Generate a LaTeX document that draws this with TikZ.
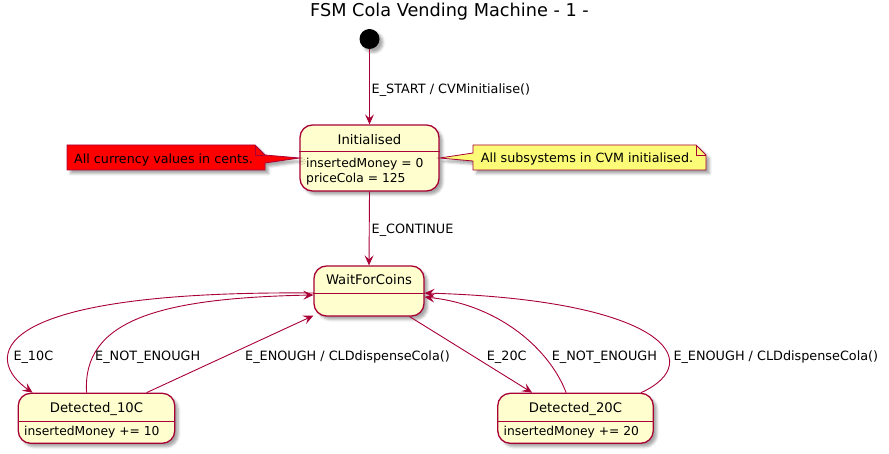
\documentclass[tikz,border=0pt]{standalone}
\usepackage{fontspec}
\setmainfont{DejaVu Sans}
\usetikzlibrary{arrows.meta,shadows.blur,calc}
\definecolor{pborder}{HTML}{A80036}
\definecolor{pfill}{HTML}{FEFECE}
\definecolor{pnote}{HTML}{FBFB77}
\tikzset{
  pshadow/.style={blur shadow={shadow xshift=3.5pt,shadow yshift=-3.5pt,shadow blur radius=2.5pt,shadow opacity=35}},
  statebox/.style={draw=pborder,fill=pfill,line width=1.3pt,rounded corners=12.5pt,inner sep=0pt,pshadow},
  sname/.style={anchor=base,inner sep=0pt,font=\fontsize{13.2}{15}\selectfont},
  sbody/.style={anchor=base west,inner sep=0pt,font=\fontsize{12.3}{14}\selectfont},
  elabel/.style={anchor=base west,inner sep=0pt,font=\fontsize{12.8}{15}\selectfont},
  notetext/.style={anchor=base west,inner sep=0pt,font=\fontsize{12.7}{15}\selectfont},
  notebox/.style={draw=pborder,line width=0.8pt,line join=miter,pshadow},
  sep/.style={draw=pborder,line width=1pt},
  trans/.style={draw=pborder,line width=0.9pt,-{Stealth[length=10pt,width=9pt,inset=4pt]}}
}
\begin{document}
\begin{tikzpicture}[x=1pt,y=-1pt]
\useasboundingbox (0,0) rectangle (889,454);
% title
\node[anchor=base,inner sep=0pt,font=\fontsize{17.7}{20}\selectfont] (title) at (449.5,17) {FSM Cola Vending Machine - 1 -};
% start
\node[circle,fill=black,minimum size=20pt,inner sep=0pt,pshadow] (start) at (369.5,39) {};
% states
\node[statebox,minimum width=139pt,minimum height=66pt] (init) at (369.5,158) {};
\draw[sep] ($(init.north west)+(0,27)$) -- ($(init.north east)+(0,27)$);
\node[sname] (initn) at (369.5,145) {Initialised};
\node[sbody] (initb1) at (306,167.7) {insertedMoney = 0};
\node[sbody] (initb2) at (306,182.3) {priceCola = 125};

\node[statebox,minimum width=110pt,minimum height=50pt] (wait) at (369,291) {};
\draw[sep] ($(wait.north west)+(0,28)$) -- ($(wait.north east)+(0,28)$);
\node[sname] (waitn) at (369,285) {WaitForCoins};

\node[statebox,minimum width=156.5pt,minimum height=50pt] (d10) at (96.5,418.3) {};
\draw[sep] ($(d10.north west)+(0,28.4)$) -- ($(d10.north east)+(0,28.4)$);
\node[sname] (d10n) at (96.5,412.3) {Detected\_10C};
\node[sbody] (d10b) at (24,435) {insertedMoney += 10};

\node[statebox,minimum width=155.5pt,minimum height=50pt] (d20) at (575.5,418.3) {};
\draw[sep] ($(d20.north west)+(0,28.4)$) -- ($(d20.north east)+(0,28.4)$);
\node[sname] (d20n) at (575.5,412.3) {Detected\_20C};
\node[sbody] (d20b) at (503.5,435) {insertedMoney += 20};

% notes
\draw[notebox,fill=red] (67,145) -- (255,145) -- (265,155) -- (init.west) -- (265,163) -- (265,170) -- (67,170) -- cycle;
\draw[draw=pborder,line width=0.8pt] (255,145) -- (255,155) -- (265,155);
\node[notetext] (rednote) at (74,163.3) {All currency values in cents.};

\draw[notebox,fill=pnote] (473,145) -- (696,145) -- (706,155) -- (706,170) -- (473,170) -- (473,161) -- (init.east) -- (473,153) -- cycle;
\draw[draw=pborder,line width=0.8pt] (696,145) -- (696,155) -- (706,155);
\node[notetext] (yelnote) at (480.7,162.7) {All subsystems in CVM initialised.};

% transitions
\draw[trans] (start) -- (init.north);
\node[elabel] (l1) at (371.5,93.3) {E\_START / CVMinitialise()};
\draw[trans] (init.south) -- (wait.north);
\node[elabel] (l2) at (371.5,233.3) {E\_CONTINUE};

\draw[trans] ($(wait.west)+(0,2)$) .. controls (-20,290) and (-15,360) .. ($(d10.north west)+(15,0)$);
\node[elabel] (l3) at (13.3,360) {E\_10C};
\draw[trans] ($(d10.north west)+(69,0)$) .. controls (82,320) and (160,298) .. ($(wait.west)+(0,4)$);
\node[elabel] (l4) at (95,360) {E\_NOT\_ENOUGH};
\draw[trans] ($(d10.north west)+(129,0)$) -- ($(wait.south west)+(0,-1)$);
\node[elabel] (l5) at (245,360) {E\_ENOUGH / CLDdispenseCola()};

\draw[trans] ($(wait.south east)+(-15,0)$) -- ($(d20.north west)+(35,0)$);
\node[elabel] (l6) at (486.7,360) {E\_20C};
\draw[trans] ($(d20.north west)+(69,0)$) .. controls (550,350) and (500,305) .. ($(wait.east)+(0,6)$);
\node[elabel] (l7) at (551.7,360) {E\_NOT\_ENOUGH};
\draw[trans] ($(d20.north west)+(144,0)$) .. controls (708,362) and (665,300) .. ($(wait.east)+(0,2)$);
\node[elabel] (l8) at (673.3,360) {E\_ENOUGH / CLDdispenseCola()};
\end{tikzpicture}
\end{document}
